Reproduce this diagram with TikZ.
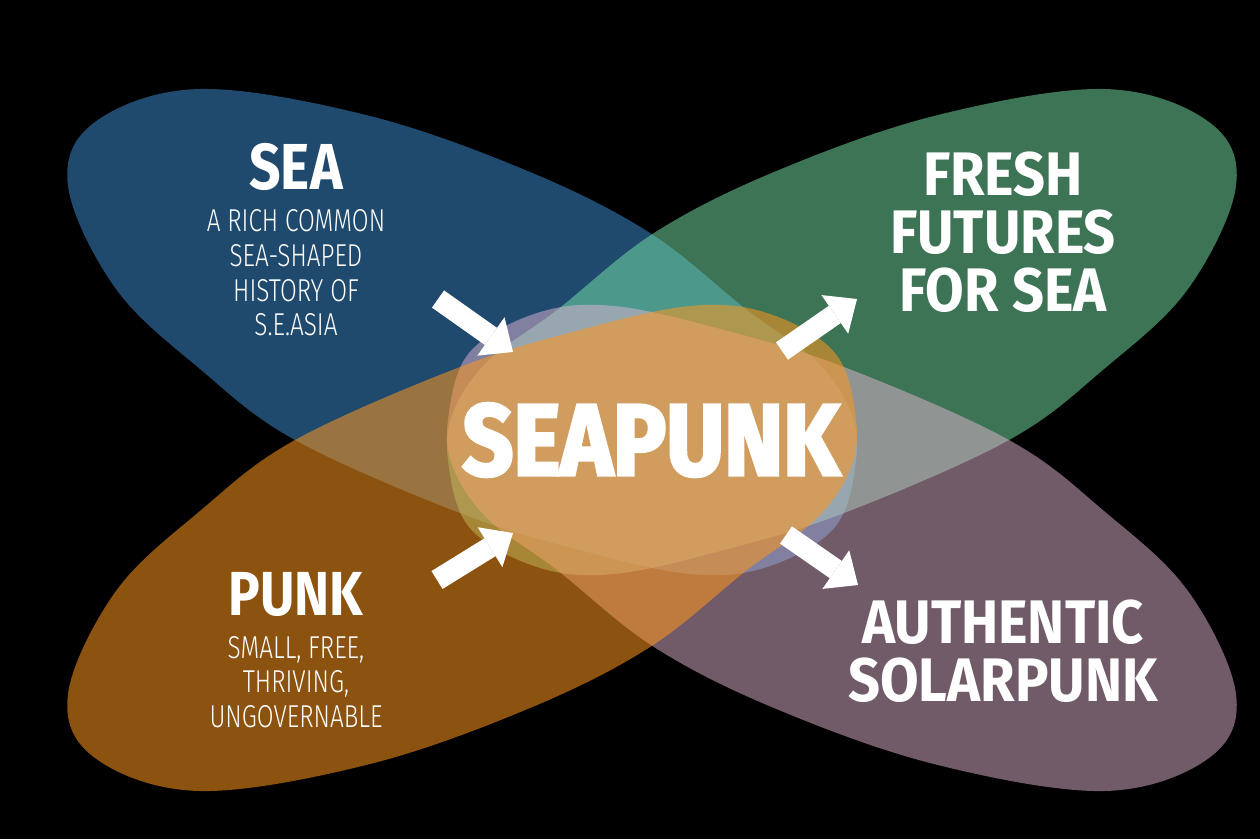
\documentclass[tikz,border=0pt]{standalone}
\usepackage{fontspec}
\usetikzlibrary{arrows.meta}
\newfontfamily\headfont{Fira Sans}[FakeStretch=0.85]
\newfontfamily\headwidefont{Fira Sans}[FakeStretch=0.91]
\newfontfamily\subfont{Fira Sans Light}[FakeStretch=0.77]
\newfontfamily\bigfont{Fira Sans}[FakeStretch=0.88,FakeBold=3]
\definecolor{petalblue}{RGB}{62,148,220}
\definecolor{petalgreen}{RGB}{122,232,170}
\definecolor{petalpurple}{RGB}{228,182,210}
\definecolor{petalorange}{RGB}{255,150,28}
\newcommand\petalpath{plot[smooth cycle, tension=0.6] coordinates {(68,-186) (95,-122) (200,-89) (370,-116) (530,-172) (650,-233) (747,-310) (815,-360) (850,-410) (856,-460) (835,-527) (767,-567) (690,-574) (580,-550) (460,-513) (295,-440) (200,-369) (116,-289)}}
\begin{document}
\begin{tikzpicture}[x=0.02cm,y=0.02cm,
  petal/.style={fill opacity=0.5},
  headtext/.style={text=white, inner sep=0pt, align=center, font=\headwidefont\bfseries\fontsize{35}{32.9}\selectfont},
  sidetext/.style={text=white, inner sep=0pt, align=center, font=\headfont\bfseries\fontsize{37}{40}\selectfont},
  subtext/.style={text=white, inner sep=0pt, align=center, font=\subfont\fontsize{18}{19.7}\selectfont},
  bigtext/.style={text=white, inner sep=0pt, font=\bigfont\bfseries\fontsize{57.6}{60}\selectfont},
  blockarrow/.style={draw=white, line width=0.42cm, -{Triangle[length=0.54cm, width=0.94cm, line width=0pt]}}]
\fill[black] (0,0) rectangle (1260,-839);
\useasboundingbox (0,0) rectangle (1260,-839);
% petals
\fill[petalblue, petal] \petalpath;
\begin{scope}[shift={(1304,0)}, xscale=-1]
  \fill[petalgreen, petal] \petalpath;
\end{scope}
\begin{scope}[shift={(1304,-880)}, scale=-1]
  \fill[petalpurple, petal] \petalpath;
\end{scope}
\begin{scope}[shift={(0,-880)}, yscale=-1]
  \fill[petalorange, fill opacity=0.55] \petalpath;
\end{scope}
% texts
\node[sidetext] (sea) at (296,-167) {SEA};
\node[subtext] (seadesc) at (296,-273) {A RICH COMMON\\SEA-SHAPED\\HISTORY OF\\S.E.ASIA};
\node[headtext] (fresh) at (1003,-232) {FRESH\\FUTURES\\FOR SEA};
\node[bigtext] (seapunk) at (651,-440) {SEAPUNK};
\node[sidetext, font=\headfont\bfseries\fontsize{35.4}{40}\selectfont] (punk) at (296,-594) {PUNK};
\node[subtext] (punkdesc) at (296,-682) {SMALL, FREE,\\THRIVING,\\UNGOVERNABLE};
\node[headtext] (solar) at (1003,-651) {AUTHENTIC\\SOLARPUNK};
% arrows
\coordinate (tlS) at (438,-299); \coordinate (tlE) at (513,-352);
\coordinate (trS) at (782,-351); \coordinate (trE) at (857,-299);
\coordinate (blS) at (437,-580); \coordinate (blE) at (513,-533);
\coordinate (brS) at (786,-535); \coordinate (brE) at (858,-585);
\draw[blockarrow] (tlS) -- (tlE);
\draw[blockarrow] (trS) -- (trE);
\draw[blockarrow] (blS) -- (blE);
\draw[blockarrow] (brS) -- (brE);
\end{tikzpicture}
\end{document}
